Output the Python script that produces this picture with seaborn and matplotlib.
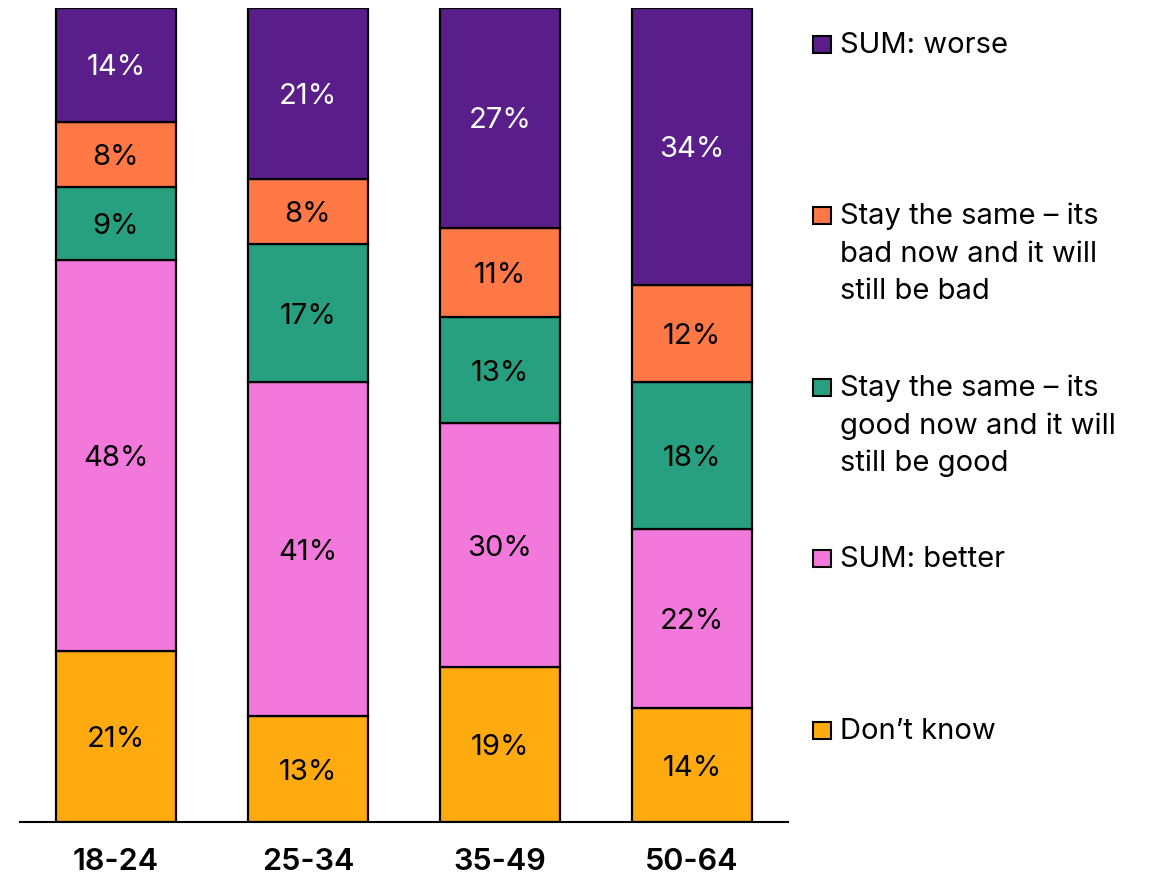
import matplotlib
matplotlib.use("Agg")
import matplotlib.pyplot as plt
from matplotlib.patches import Rectangle
import seaborn as sns
import numpy as np

sns.set_theme(style="white")
plt.rcParams["font.family"] = ["Inter", "DejaVu Sans"]

# Age groups and answer shares (percent), listed from the bottom of each stack upward
age_groups = ["18-24", "25-34", "35-49", "50-64"]
dont_know = [21, 13, 19, 14]
better = [48, 41, 30, 22]
same_good = [9, 17, 13, 18]
same_bad = [8, 8, 11, 12]
worse = [14, 21, 27, 34]

series_names = [
    ["Don\u2019t know"],
    ["SUM: better"],
    ["Stay the same \u2013 its", "good now and it will", "still be good"],
    ["Stay the same \u2013 its", "bad now and it will", "still be bad"],
    ["SUM: worse"],
]
series_values = [dont_know, better, same_good, same_bad, worse]
series_colors = ["#FFAA0F", "#F279DB", "#26A07F", "#FF7845", "#5A1E8A"]
label_colors = ["black", "black", "black", "black", "white"]

W, H = 1155, 875
fig = plt.figure(figsize=(W / 100, H / 100), dpi=100)
ax = fig.add_axes([20 / W, 53 / H, 768 / W, 814 / H])

bottom = np.zeros(len(age_groups))
for vals, color, tcol in zip(series_values, series_colors, label_colors):
    vals = np.array(vals, dtype=float)
    sns.barplot(x=age_groups, y=vals, bottom=bottom, color=color, width=0.63,
                edgecolor="black", linewidth=1.6, saturation=1, ax=ax)
    for i, v in enumerate(vals):
        ax.text(i, bottom[i] + v / 2, f"{int(v)}%", ha="center",
                va="center_baseline", fontsize=21, color=tcol)
    bottom += vals

ax.set_xlim(-0.5, 3.5)
ax.set_ylim(0, 100)
ax.set_yticks([])
ax.set_ylabel("")
for side in ["top", "right", "left"]:
    ax.spines[side].set_visible(False)
ax.spines["bottom"].set_color("black")
ax.spines["bottom"].set_linewidth(1.5)
ax.tick_params(axis="x", length=0, pad=19, labelsize=22)
for lbl in ax.get_xticklabels():
    lbl.set_fontweight("semibold")
    lbl.set_color("black")

# Legend, drawn top-down: worse first; each line placed on its own baseline
legend_baselines = [53, 224, 396, 567, 739]
line_step = 37.5
for lines, color, yb in zip(series_names[::-1], series_colors[::-1], legend_baselines):
    fig.patches.append(Rectangle((813 / W, 1 - yb / H), 18 / W, 17 / H,
                                 transform=fig.transFigure, facecolor=color,
                                 edgecolor="black", linewidth=1.5))
    for k, line in enumerate(lines):
        fig.text(840 / W, 1 - (yb + k * line_step) / H, line, ha="left",
                 va="baseline", fontsize=21, color="black")

fig.savefig("out.png", dpi=100)
